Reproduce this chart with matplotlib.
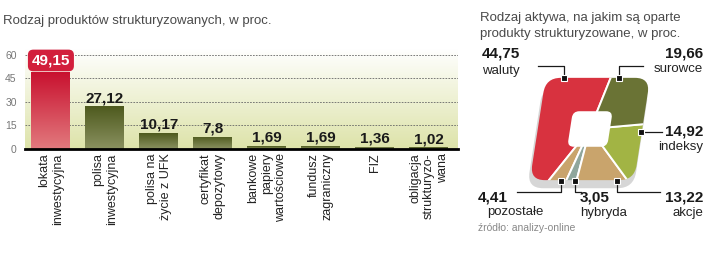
import numpy as np
import matplotlib
matplotlib.use('Agg')
import matplotlib.pyplot as plt
from matplotlib.patches import FancyBboxPatch
from matplotlib.transforms import Affine2D
from matplotlib.colors import LinearSegmentedColormap

plt.rcParams['font.family'] = ['Liberation Sans', 'DejaVu Sans']

# left chart: product types
products = ['lokata\ninwestycyjna', 'polisa\ninwestycyjna', 'polisa na\nżycie z UFK',
            'certyfikat\ndepozytowy', 'bankowe\npapiery\nwartościowe', 'fundusz\nzagraniczny',
            'FIZ', 'obligacja\nstrukturyzo-\nwana']
shares = [49.15, 27.12, 10.17, 7.8, 1.69, 1.69, 1.36, 1.02]
yticks = [0, 15, 30, 45, 60]

# right chart: underlying assets (pie order, counterclockwise from top)
assets = ['waluty', 'pozostałe', 'hybryda', 'akcje', 'indeksy', 'surowce']
asset_shares = [44.75, 4.41, 3.05, 13.22, 14.92, 19.66]
asset_colors = ['#d8323f', '#c9a46c', '#8fa69c', '#c9a46c', '#a2b444', '#6a7335']


def fmt(v):
    return str(v).replace('.', ',')


fig = plt.figure(figsize=(7.2, 2.64), dpi=100)

# ---------------- bar chart ----------------
ax = fig.add_axes([25/720, 1-149/264, 433/720, 100.3/264])
ax.set_xlim(-0.48, 7.54)
ax.set_ylim(0, 64)

bg = LinearSegmentedColormap.from_list('bg', ['#dde3a9', '#ffffff'])
ax.imshow(np.linspace(0, 1, 100).reshape(-1, 1), extent=[-0.48, 7.54, 0, 64],
          aspect='auto', cmap=bg, origin='lower', zorder=0)

ax.set_yticks(yticks)
ax.yaxis.grid(True, linestyle=(0, (2, 1.5)), color='#666666', lw=0.6, zorder=1)
ax.set_xticks(range(len(products)))
ax.set_xticklabels(products, rotation=90, ha='center', va='top',
                   multialignment='right', fontsize=9, color='#222222')
ax.tick_params(axis='x', length=0, pad=3)
ax.tick_params(axis='y', length=0, pad=6, labelsize=7.5, labelcolor='#777777')
for s in ['top', 'right', 'left']:
    ax.spines[s].set_visible(False)
ax.spines['bottom'].set_linewidth(2)
ax.spines['bottom'].set_zorder(5)

red_cm = LinearSegmentedColormap.from_list('r', ['#e27a7e', '#c8102e'])
olive_cm = LinearSegmentedColormap.from_list('o', ['#8a9160', '#4e5a1e'])
bars = ax.bar(range(len(shares)), shares, width=0.72, color='#5d6a2e', zorder=2)
grad = np.linspace(0, 1, 100).reshape(-1, 1)
for i, b in enumerate(bars):
    x0 = b.get_x()
    im = ax.imshow(grad, extent=[x0, x0 + b.get_width(), 0, b.get_height()],
                   aspect='auto', origin='lower', cmap=red_cm if i == 0 else olive_cm,
                   zorder=3)
    im.set_clip_path(b)

for i, v in enumerate(shares):
    if i == 0:
        ax.text(i, 56.5, fmt(v), ha='center', va='center', fontsize=11,
                fontweight='bold', color='white', zorder=6,
                bbox=dict(boxstyle='round,pad=0.25,rounding_size=0.35',
                          fc='#d21f3c', ec='none'))
    else:
        ax.text(i, v + 2.8, fmt(v), ha='center', va='baseline', fontsize=11,
                fontweight='bold', color='#1a1a1a', zorder=6)

fig.text(3/720, 1-21/264, 'Rodzaj produktów strukturyzowanych, w proc.',
         fontsize=9.5, color='#4a4a4a', va='center', ha='left')

# ---------------- square "donut" ----------------
pa = fig.add_axes([520/720, 1-199/264, 140/720, 140/264])
pa.axis('off')

wedges, _ = pa.pie(asset_shares, colors=asset_colors, startangle=76,
                   counterclock=True, radius=2.2,
                   wedgeprops=dict(edgecolor='white', linewidth=1.4))
pa.set_aspect('auto')
pa.set_xlim(-1.3, 1.3)
pa.set_ylim(-1.3, 1.3)
skew = Affine2D().skew_deg(8.8, 0) + pa.transData

# grey shadow under the bottom edge
shadow = FancyBboxPatch((-1.0, -1.1), 1.98, 1.9,
                        boxstyle='round,pad=0,rounding_size=0.3',
                        fc='#d6d6d6', ec='none', transform=skew, zorder=0)
pa.add_patch(shadow)

outer = FancyBboxPatch((-0.97, -0.95), 1.94, 1.9,
                       boxstyle='round,pad=0,rounding_size=0.28',
                       fc='none', ec='none', transform=skew)
for w in wedges:
    w.set_transform(skew)
    w.set_clip_on(True)
    w.set_clip_path(outer)
    w.set_zorder(1)

hole = FancyBboxPatch((-0.37, -0.33), 0.74, 0.66,
                      boxstyle='round,pad=0,rounding_size=0.12',
                      fc='white', ec='none', transform=skew, zorder=2)
pa.add_patch(hole)

# ---------------- overlay for labels and leaders (pixel coords) ----------------
ov = fig.add_axes([0, 0, 1, 1], zorder=10)
ov.set_xlim(0, 720)
ov.set_ylim(264, 0)
ov.axis('off')
ov.patch.set_alpha(0)

ov.text(480, 18, 'Rodzaj aktywa, na jakim są oparte', fontsize=9.5,
        color='#4a4a4a', va='center')
ov.text(480, 34, 'produkty strukturyzowane, w proc.', fontsize=9.5,
        color='#4a4a4a', va='center')

vals = dict(zip(assets, asset_shares))
# (value x, value y, name x, name y, ha, leader path)
layout = {
    'waluty':    (482, 53, 482, 71, 'left', [(564, 78), (564, 66), (538, 66)]),
    'surowce':   (703, 53, 703, 69, 'right', [(619, 78), (619, 66), (643, 66)]),
    'indeksy':   (703, 131, 703, 147, 'right', [(641, 132), (662, 132)]),
    'pozostałe': (478, 197, 487, 212, 'left', [(561, 181), (561, 192), (517, 192)]),
    'hybryda':   (580, 197, 580, 213, 'left', [(575, 181), (575, 192), (581, 192)]),
    'akcje':     (703, 197, 703, 213, 'right', [(617, 181), (617, 192), (660, 192)]),
}
for name, (vx, vy, nx, ny, ha, path) in layout.items():
    ov.text(vx, vy, fmt(vals[name]), ha=ha, va='center', fontsize=11,
            fontweight='bold', color='#1a1a1a')
    ov.text(nx, ny, name, ha=ha, va='center', fontsize=9.5, color='#222222')
    xs, ys = zip(*path)
    ov.plot(xs, ys, color='#1a1a1a', lw=0.9)
    ov.plot(xs[0], ys[0], marker='s', ms=4.5, mfc='#111111', mec='white', mew=0.8)

ov.text(478, 228, 'źródło: analizy-online', fontsize=7.5, color='#888888',
        va='center')

fig.savefig('out.png', dpi=100)
